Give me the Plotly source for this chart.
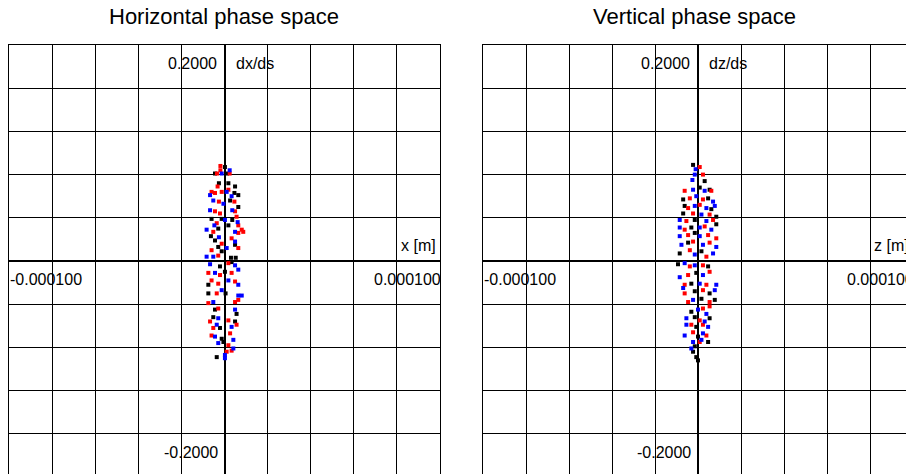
import plotly.graph_objects as go

# ---------------- data (x in micrometres, slope in rad) ----------------
# Horizontal phase space
hx_red = [-1.9, -1.9, -3.5, 2.4, -3.2, -6.0, -4.4, -1.3, 1.8, -2.6, 4.6, -4.4, 4.9, -2.1, 5.6, -3.6, 6.4, 8.0, -5.2, 6.4, 3.3, 8.7, -1.3, -6.0, 6.4, -2.9,
          1.8, -7.5, -2.1, 3.3, -6.0, -2.9, 4.9, -3.6, -7.5, 4.9, 6.4, -2.9, -6.7, 1.8, -5.2, 5.6, -6.0, 2.6, 1.8, 3.3, 1.0]
hy_red = [0.088, 0.084, 0.081, 0.081, 0.069, 0.064, 0.063, 0.064, 0.066, 0.055, 0.055, 0.046, 0.046, 0.044, 0.041, 0.035, 0.033, 0.029, 0.027, 0.026, 0.021, 0.027, 0.016, 0.010, 0.012, 0.005,
          -0.002, -0.011, -0.013, -0.011, -0.018, -0.021, -0.019, -0.030, -0.039, -0.038, -0.036, -0.044, -0.056, -0.055, -0.062, -0.059, -0.069, -0.067, -0.078, -0.083, -0.084]
hx_blue = [-1.3, 2.4, -6.7, 1.0, 3.3, -5.2, -0.5, -6.7, 3.6, 0.2, 6.1, -4.7, -8.3, 4.9, -2.6, 4.9, 1.0, -8.3, -5.2,
           -6.7, 4.9, -4.4, 6.4, 1.8, 6.4, -1.3, 6.4, 8.0, -5.2, 4.9, -2.9, -3.6, 3.3, -4.4, 4.1, -2.9, 4.1, 0.2, 0.2]
hy_blue = [0.081, 0.084, 0.061, 0.064, 0.060, 0.056, 0.053, 0.047, 0.047, 0.038, 0.036, 0.033, 0.029, 0.027, 0.022, 0.018, 0.012, 0.004, 0.004,
           -0.003, -0.004, -0.011, -0.008, -0.018, -0.022, -0.027, -0.032, -0.032, -0.038, -0.045, -0.053, -0.059, -0.061, -0.070, -0.073, -0.076, -0.081, -0.087, -0.090]
hx_black = [0.2, -4.4, 1.2, -2.6, 1.8, 4.9, 4.6, 6.4, 2.6, 6.4, -1.3, -6.0, 3.6, 1.8, -2.9, -6.3, -4.4, -2.9, -1.3, 4.9, 3.0, 5.2,
            -2.1, 3.3, 0.2, -7.5, -7.5, 0.5, -4.4, 5.6, -5.2, 4.9, -2.1, -1.3, -0.5, -3.6]
hy_black = [0.087, 0.081, 0.081, 0.072, 0.072, 0.069, 0.063, 0.061, 0.056, 0.050, 0.039, 0.039, 0.038, 0.033, 0.030, 0.023, 0.019, 0.013, 0.009, 0.015, 0.003, 0.003,
            -0.005, -0.001, -0.010, -0.022, -0.030, -0.030, -0.045, -0.049, -0.052, -0.056, -0.062, -0.072, -0.075, -0.089]

# Vertical phase space
vx_black = [-2.3, 3.1, 0.8, 5.4, -6.9, 4.7, -6.2, 6.2, -6.9, 8.5, -1.5, 8.5, -3.1, -1.5, -4.6, -8.5, 1.6,
            -9.3, 4.7, -0.8, -3.1, -1.5, 5.4, 1.6, 7.8, -3.1, -1.5, 5.4, -0.8, 0.0, -1.5, 4.7, -2.3, -0.8, 0.0]
vy_black = [0.089, 0.074, 0.068, 0.066, 0.057, 0.058, 0.051, 0.048, 0.044, 0.041, 0.038, 0.034, 0.031, 0.026, 0.017, 0.007, 0.009,
            -0.003, -0.005, -0.011, -0.021, -0.028, -0.030, -0.035, -0.036, -0.047, -0.052, -0.053, -0.061, -0.070, -0.079, -0.075, -0.084, -0.089, -0.092]
vx_red = [0.8, 2.3, -6.2, 6.2, -3.8, 2.3, -4.6, 0.8, -2.3, 5.4, -5.4, 7.0, -6.2, 3.1, -4.6, 4.7, 8.5, -2.3, 5.4, -3.8, 3.9,
          -3.8, 2.3, -4.6, 5.4, -6.2, 3.9, -6.2, 2.3, -4.6, 5.4, 2.3, 5.4, 0.8, -3.1, 2.3, -2.3, 3.9, 0.8]
vy_red = [0.087, 0.080, 0.065, 0.065, 0.058, 0.057, 0.049, 0.052, 0.044, 0.043, 0.037, 0.038, 0.029, 0.032, 0.024, 0.024, 0.021, 0.018, 0.017, 0.010, 0.004,
          -0.005, -0.004, -0.013, -0.010, -0.022, -0.022, -0.030, -0.027, -0.038, -0.038, -0.044, -0.042, -0.055, -0.059, -0.059, -0.066, -0.069, -0.075]
vx_blue = [-1.1, -1.5, -2.6, -2.3, 3.1, -0.8, 7.0, -1.5, 3.9, 7.8, 1.6, -8.5, 3.9, -8.5, 0.8, 6.2, -8.5, 0.8, -7.7, 2.3, 8.5, -1.5, 7.0,
           -6.2, -1.5, -8.5, 2.3, 0.8, 8.5, -6.9, 7.8, -2.3, 0.0, 3.9, -5.4, 3.1, -5.4, 4.7, -6.2, 2.3, -2.3, 1.6, -3.1]
vy_blue = [0.085, 0.080, 0.075, 0.066, 0.065, 0.060, 0.055, 0.051, 0.049, 0.051, 0.043, 0.038, 0.037, 0.031, 0.031, 0.029, 0.023, 0.023, 0.015, 0.015, 0.013, 0.006, 0.007,
           -0.002, -0.004, -0.015, -0.013, -0.021, -0.022, -0.025, -0.027, -0.036, -0.045, -0.049, -0.053, -0.056, -0.059, -0.061, -0.069, -0.067, -0.075, -0.073, -0.081]

titles = ["Horizontal phase space", "Vertical phase space"]
x_labels = ["x [m]", "z [m]"]
y_labels = ["dx/ds", "dz/ds"]
x_tick_text = ["-0.000100", "0.000100"]
y_tick_text = ["0.2000", "-0.2000"]
x_lim = 0.0001
y_lim = 0.2

# page has an 8px body margin, so the figure is placed at (8, 8)
W, H = 906, 470
fig = go.Figure()

panels = [
    ("x", "y", [(hx_black, hy_black, "black"), (hx_red, hy_red, "#ff0000"), (hx_blue, hy_blue, "#0000ff")]),
    ("x2", "y2", [(vx_black, vy_black, "black"), (vx_red, vy_red, "#ff0000"), (vx_blue, vy_blue, "#0000ff")]),
]
for xa, ya, series in panels:
    for xs, ys, col in series:
        fig.add_trace(go.Scatter(
            x=[v * 1e-6 for v in xs], y=ys, xaxis=xa, yaxis=ya, mode="markers",
            marker=dict(symbol="square", size=4, color=col, line=dict(width=0)),
            showlegend=False, hoverinfo="skip"))

axis_common = dict(showgrid=True, gridcolor="black", gridwidth=1, zeroline=True,
                   zerolinecolor="black", zerolinewidth=2, showline=True, linecolor="black",
                   linewidth=1, mirror=True, showticklabels=False, ticks="")

top = 1 - 37 / H
bottom = 1 / H
fig.update_layout(
    width=W, height=H, margin=dict(l=0, r=0, t=0, b=0),
    paper_bgcolor="white", plot_bgcolor="white",
    font=dict(family="Liberation Sans, Arial, Helvetica, sans-serif", color="black", size=16),
    xaxis=dict(domain=[1 / W, 432 / W], range=[-x_lim, x_lim], dtick=2e-5, tick0=0, anchor="y", **axis_common),
    yaxis=dict(domain=[bottom, top], range=[-y_lim, y_lim], dtick=0.04, tick0=0, anchor="x", **axis_common),
    xaxis2=dict(domain=[475 / W, 905 / W], range=[-x_lim, x_lim], dtick=2e-5, tick0=0, anchor="y2", **axis_common),
    yaxis2=dict(domain=[bottom, top], range=[-y_lim, y_lim], dtick=0.04, tick0=0, anchor="x2", **axis_common),
)

ann = []
for i, (xr, yr) in enumerate([("x", "y"), ("x2", "y2")]):
    centre_px = [216, 686][i]
    ann.append(dict(text=titles[i], xref="paper", yref="paper", x=centre_px / W, y=1 - 9 / H,
                    xanchor="center", yanchor="middle", showarrow=False, font=dict(size=22)))
    ann.append(dict(text=y_tick_text[0], xref=xr, yref=yr, x=0, y=0.1833, xanchor="right", yanchor="middle",
                    xshift=-6, showarrow=False))
    ann.append(dict(text=y_labels[i], xref=xr, yref=yr, x=0, y=0.1833, xanchor="left", yanchor="middle",
                    xshift=9, showarrow=False))
    ann.append(dict(text=y_tick_text[1], xref=xr, yref=yr, x=0, y=-0.177, xanchor="right", yanchor="middle",
                    xshift=-5, showarrow=False))
    ann.append(dict(text=x_labels[i], xref=xr, yref=yr, x=x_lim, y=0.0148, xanchor="right", yanchor="middle",
                    xshift=-2, showarrow=False))
    ann.append(dict(text=x_tick_text[0], xref=xr, yref=yr, x=-x_lim, y=-0.0167, xanchor="left", yanchor="middle",
                    xshift=-1, showarrow=False))
    ann.append(dict(text=x_tick_text[1], xref=xr, yref=yr, x=x_lim, y=-0.0167, xanchor="right", yanchor="middle",
                    xshift=3, showarrow=False))
fig.update_layout(annotations=ann)

fig.write_html("out.html")
